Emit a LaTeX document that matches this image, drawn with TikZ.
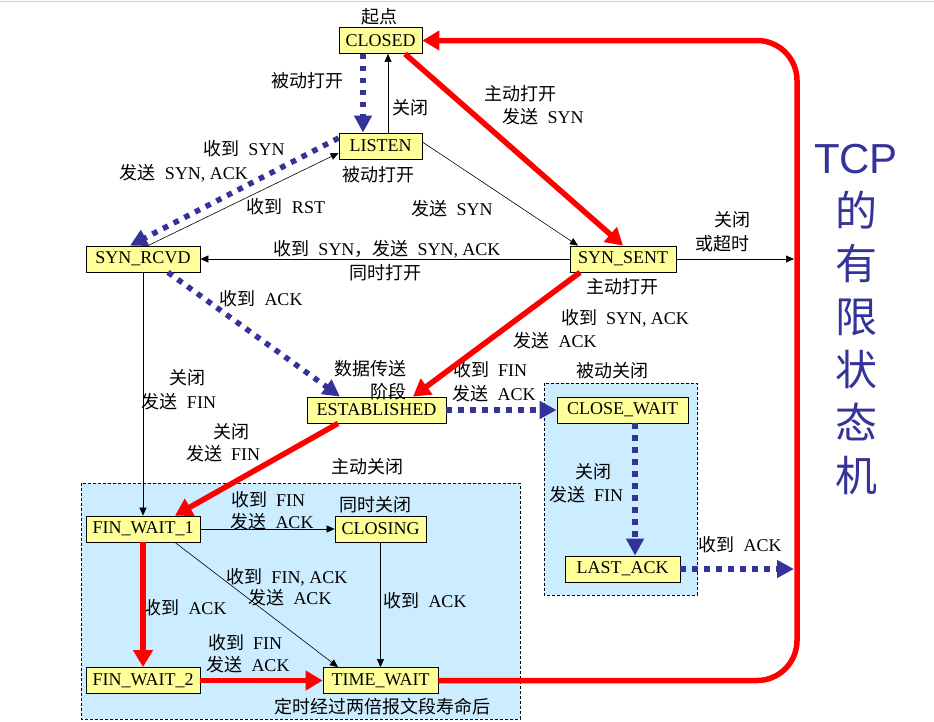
\documentclass[tikz,border=0pt]{standalone}
\usepackage{fontspec}
\setmainfont{Liberation Serif}
\newfontfamily\cjk{Noto Sans CJK SC}
\newfontfamily\tcpfont{Liberation Sans}
\usepackage{xcolor}
\usetikzlibrary{arrows.meta}
\definecolor{stateyellow}{HTML}{FFFF99}
\definecolor{tcpblue}{HTML}{333399}
\definecolor{zoneblue}{HTML}{CCECFF}
\newcommand{\zh}[1]{{\cjk #1}}

\begin{document}
\begin{tikzpicture}[x=1pt,y=-1pt,
  statebox/.style={draw,fill=stateyellow,line width=0.8pt,inner xsep=5pt,minimum height=26pt,font=\fontsize{18}{22}\selectfont},
  lbl/.style={inner sep=0pt,font=\fontsize{18}{22}\selectfont},
  plainarr/.style={-{Triangle[length=8pt,width=7pt]},line width=0.6pt},
  bluedot/.style={-{Triangle[length=17pt,width=17pt]},tcpblue,line width=5.5pt,dash pattern=on 5.5pt off 6.5pt},
  redarr/.style={-{Triangle[length=17pt,width=19pt]},red,line width=5.5pt},
  zone/.style={fill=zoneblue,draw=black,line width=0.6pt,dash pattern=on 3pt off 2pt}]
  \useasboundingbox (0,0) rectangle (934,721);
  \draw[black!20,line width=1pt] (0,1.5) -- (934,1.5);
  % closing zones
  \draw[zone] (81,483) rectangle (520,719);
  \draw[zone] (544,383) rectangle (697,595);
  \coordinate (rline) at (797,0);
  \coordinate (rin) at (794,0);

  % states
  \node[statebox,minimum width=83pt] (closed) at (380.5,40.5) {CLOSED};
  \node[statebox,minimum width=83pt] (listen) at (380.5,146) {LISTEN};
  \node[statebox,minimum width=114pt] (synrcvd) at (143,259) {SYN\_RCVD};
  \node[statebox,minimum width=106pt] (synsent) at (623,259) {SYN\_SENT};
  \node[statebox,minimum width=139pt] (estab) at (376.5,410) {ESTABLISHED};
  \node[statebox,minimum width=131pt] (closewait) at (622.5,410) {CLOSE\_WAIT};
  \node[statebox,minimum width=115pt] (lastack) at (622.5,569) {LAST\_ACK};
  \node[statebox,minimum width=114pt] (finwait1) at (143,529) {FIN\_WAIT\_1};
  \node[statebox,minimum width=91pt] (closing) at (380.5,529) {CLOSING};
  \node[statebox,minimum width=114pt] (finwait2) at (143,680.5) {FIN\_WAIT\_2};
  \node[statebox,minimum width=115pt] (timewait) at (380.5,680.5) {TIME\_WAIT};

  % labels
  \node[lbl] (start) at (379,17) {\zh{起点}};
  \node[lbl] (popenA) at (307,81) {\zh{被动打开}};
  \node[lbl] (closeA) at (410,108) {\zh{关闭}};
  \node[lbl] (rsynA) at (244,149) {\zh{收到}\ \ SYN};
  \node[lbl] (ssynackA) at (184,173) {\zh{发送}\ \ SYN, ACK};
  \node[lbl] (rrst) at (286,207) {\zh{收到}\ \ RST};
  \node[lbl] (popenB) at (378,175) {\zh{被动打开}};
  \node[lbl] (ssynA) at (452,209) {\zh{发送}\ \ SYN};
  \node[lbl] (aopenA) at (520,94) {\zh{主动打开}};
  \node[lbl] (ssynB) at (543,117) {\zh{发送}\ \ SYN};
  \node[lbl] (closeB) at (732,220) {\zh{关闭}};
  \node[lbl] (timeout) at (722,244) {\zh{或超时}};
  \node[lbl] (simsyn) at (387,249) {\zh{收到}\ \ SYN\zh{，发送}\ \ SYN, ACK};
  \node[lbl] (simopen) at (385,273) {\zh{同时打开}};
  \node[lbl] (aopenB) at (622,287) {\zh{主动打开}};
  \node[lbl] (rsynack) at (625,318) {\zh{收到}\ \ SYN, ACK};
  \node[lbl] (sackA) at (555,341) {\zh{发送}\ \ ACK};
  \node[lbl] (rackA) at (261,299) {\zh{收到}\ \ ACK};
  \node[lbl] (datA) at (370,369) {\zh{数据传送}};
  \node[lbl] (datB) at (388,392) {\zh{阶段}};
  \node[lbl] (rfinA) at (490,370) {\zh{收到}\ \ FIN};
  \node[lbl] (sackB) at (494,394) {\zh{发送}\ \ ACK};
  \node[lbl] (pclose) at (612,371) {\zh{被动关闭}};
  \node[lbl] (closeC) at (187,378) {\zh{关闭}};
  \node[lbl] (sfinA) at (179,402) {\zh{发送}\ \ FIN};
  \node[lbl] (closeD) at (231,432) {\zh{关闭}};
  \node[lbl] (sfinB) at (223,454) {\zh{发送}\ \ FIN};
  \node[lbl] (aclose) at (367,467) {\zh{主动关闭}};
  \node[lbl] (rfinB) at (268,500) {\zh{收到}\ \ FIN};
  \node[lbl] (sackC) at (272,522) {\zh{发送}\ \ ACK};
  \node[lbl] (simclose) at (375,505) {\zh{同时关闭}};
  \node[lbl] (rfinack) at (287,577) {\zh{收到}\ \ FIN, ACK};
  \node[lbl] (sackD) at (290,598) {\zh{发送}\ \ ACK};
  \node[lbl] (rackB) at (425,601) {\zh{收到}\ \ ACK};
  \node[lbl] (rackC) at (185,608) {\zh{收到}\ \ ACK};
  \node[lbl] (rfinC) at (245,643) {\zh{收到}\ \ FIN};
  \node[lbl] (sackE) at (248,665) {\zh{发送}\ \ ACK};
  \node[lbl] (msl) at (382,707) {\zh{定时经过两倍报文段寿命后}};
  \node[lbl] (closeE) at (593,472) {\zh{关闭}};
  \node[lbl] (sfinC) at (586,495) {\zh{发送}\ \ FIN};
  \node[lbl] (rackD) at (740,545) {\zh{收到}\ \ ACK};
  \node[inner sep=0pt,align=center,text=tcpblue,font=\tcpfont\fontsize{42}{53}\selectfont] (title) at (856,320)
    {TCP\\\zh{的}\\\zh{有}\\\zh{限}\\\zh{状}\\\zh{态}\\\zh{机}};

  % thin transitions
  \draw[plainarr] ([xshift=7.5pt]listen.north) -- ([xshift=7.5pt]closed.south);
  \draw[plainarr] ([xshift=5pt]synrcvd.north) -- ([yshift=-7pt]listen.west);
  \draw[plainarr] ([yshift=4pt]listen.east) -- ([xshift=-45pt]synsent.north);
  \draw[plainarr] (synsent.west) -- (synrcvd.east);
  \draw[plainarr] (synsent.east) -- (synsent.east -| rin);
  \draw[plainarr] (synrcvd.south) -- (finwait1.north);
  \draw[plainarr] (finwait1.east) -- (closing.west);
  \draw[plainarr] ([xshift=32pt]finwait1.south) -- ([xshift=-42.5pt]timewait.north);
  \draw[plainarr] (closing.south) -- (timewait.north);

  % server side (dotted)
  \draw[bluedot] ([xshift=-17.5pt]closed.south) -- ([xshift=-17.5pt]listen.north);
  \draw[bluedot] ([yshift=8pt]listen.west) -- ([xshift=-13pt]synrcvd.north);
  \draw[bluedot] ([xshift=25pt]synrcvd.south) -- ([xshift=-36.5pt]estab.north);
  \draw[bluedot] (estab.east) -- (closewait.west);
  \draw[bluedot] ([xshift=12.5pt]closewait.south) -- ([xshift=12.5pt]lastack.north);
  \draw[bluedot] (lastack.east) -- (lastack.east -| rin);

  % client side (red)
  \draw[redarr] ([xshift=24.5pt]closed.south) -- (synsent.north);
  \draw[redarr] ([xshift=-43pt]synsent.south) -- ([xshift=36.5pt]estab.north);
  \draw[redarr] ([xshift=-38.5pt]estab.south) -- ([xshift=32pt]finwait1.north);
  \draw[redarr] (finwait1.south) -- (finwait2.north);
  \draw[redarr] (finwait2.east) -- (timewait.west);
  \draw[redarr,rounded corners=40pt] (timewait.east) -- (timewait.east -| rline)
    -- (closed.east -| rline) -- (closed.east);
\end{tikzpicture}
\end{document}
